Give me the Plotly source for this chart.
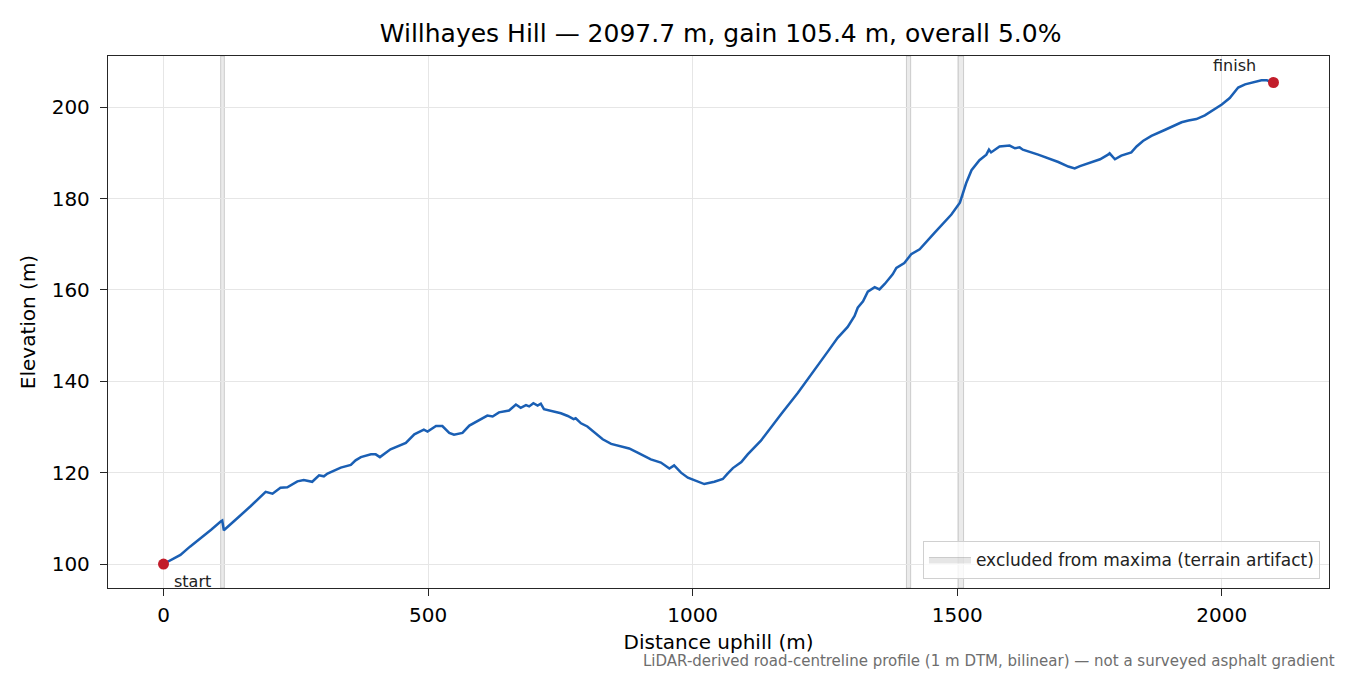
import plotly.graph_objects as go

# Road-centreline profile
distance_m = [0, 12, 32, 50, 70, 90, 108, 111, 114, 125, 142, 165, 180, 193, 206, 221, 234,
              253, 265, 281, 294, 303, 310, 335, 354, 363, 373, 392, 401, 409, 429, 458, 474,
              492, 499, 515, 527, 540, 549, 565, 578, 593, 612, 622, 634, 653, 666, 675, 685,
              691, 699, 707, 713, 719, 751, 764, 775, 779, 789, 801, 814, 830, 846, 865, 880,
              896, 921, 940, 956, 965, 978, 991, 1003, 1022, 1041, 1057, 1066, 1076, 1092,
              1104, 1129, 1150, 1167, 1199, 1224, 1256, 1274, 1293, 1306, 1312, 1322, 1331,
              1344, 1353, 1363, 1378, 1385, 1400, 1413, 1429, 1457, 1489, 1505, 1517, 1527,
              1542, 1555, 1560, 1564, 1580, 1599, 1609, 1618, 1624, 1653, 1691, 1710, 1722,
              1732, 1744, 1770, 1785, 1788, 1798, 1810, 1829, 1839, 1851, 1867, 1892, 1924,
              1937, 1952, 1968, 2000, 2015, 2031, 2044, 2056, 2075, 2085, 2097.7]
elevation_m = [100.0, 100.8, 102.0, 103.8, 105.6, 107.5, 109.3, 109.5, 107.4, 108.6, 110.3,
               112.7, 114.3, 115.8, 115.4, 116.7, 116.8, 118.1, 118.4, 118.0, 119.4, 119.2,
               119.8, 121.1, 121.7, 122.7, 123.4, 124.0, 124.0, 123.4, 125.1, 126.5, 128.4,
               129.4, 129.0, 130.2, 130.2, 128.7, 128.3, 128.7, 130.3, 131.3, 132.5, 132.3,
               133.2, 133.6, 134.9, 134.2, 134.8, 134.5, 135.2, 134.7, 135.1, 133.9, 133.0,
               132.4, 131.7, 131.9, 130.8, 130.1, 128.9, 127.3, 126.3, 125.8, 125.3, 124.4,
               122.9, 122.2, 120.9, 121.6, 120.0, 118.9, 118.3, 117.5, 118.0, 118.6, 119.8,
               121.0, 122.3, 124.0, 127.0, 130.3, 132.8, 137.5, 141.4, 146.6, 149.5, 151.9,
               154.3, 156.1, 157.5, 159.6, 160.6, 160.1, 161.3, 163.4, 164.8, 165.9, 167.8,
               168.9, 172.5, 176.5, 179.1, 183.4, 186.2, 188.4, 189.6, 190.7, 190.1, 191.4,
               191.6, 191.0, 191.2, 190.7, 189.6, 188.0, 187.0, 186.6, 187.1, 187.6, 188.6,
               189.6, 189.9, 188.6, 189.4, 190.1, 191.4, 192.6, 193.7, 195.0, 196.7, 197.1,
               197.4, 198.2, 200.6, 202.0, 204.3, 205.0, 205.3, 205.9, 205.9, 205.4]

# Stretches excluded from maxima (terrain artifacts)
excluded_start = [108, 1404, 1502]
excluded_end = [115, 1412, 1512]

total_length = 2097.7
total_gain = 105.4
overall_grade = 5.0

x_ticks = [0, 500, 1000, 1500, 2000]
y_ticks = [100, 120, 140, 160, 180, 200]

FONT = 'DejaVu Sans'
AXIS_COLOR = '#262626'
GRID_COLOR = '#e6e6e6'
BAND_FILL = 'rgba(128,128,128,0.16)'
BAND_EDGE = 'rgba(128,128,128,0.35)'

fig = go.Figure()

# Excluded bands
for x0, x1 in zip(excluded_start, excluded_end):
    fig.add_vrect(x0=x0, x1=x1, fillcolor=BAND_FILL,
                  line=dict(color=BAND_EDGE, width=1), layer='below')

# legend entry for the bands (patch-style icon)
fig.add_trace(go.Scatter(
    x=[None], y=[None], mode='lines', fill='toself',
    fillcolor='rgba(128,128,128,0.2)', line=dict(color=BAND_EDGE, width=1),
    name='excluded from maxima (terrain artifact)',
))

# Profile line
fig.add_trace(go.Scatter(
    x=distance_m, y=elevation_m,
    mode='lines',
    line=dict(color='#1a5fb4', width=2.5),
    showlegend=False,
    hoverinfo='skip',
))

# Start / finish markers
fig.add_trace(go.Scatter(
    x=[distance_m[0], distance_m[-1]],
    y=[elevation_m[0], elevation_m[-1]],
    mode='markers',
    marker=dict(color='#c21d2b', size=11),
    showlegend=False,
    hoverinfo='skip',
))

fig.add_annotation(x=distance_m[0], y=elevation_m[0], text='start', showarrow=False,
                   xanchor='left', yanchor='top', xshift=8, yshift=-6,
                   font=dict(family=FONT, size=16, color='#222'))
fig.add_annotation(x=distance_m[-1], y=elevation_m[-1], text='finish', showarrow=False,
                   xanchor='right', yanchor='bottom', xshift=-15, yshift=6,
                   font=dict(family=FONT, size=16, color='#222'))

# Footnote
fig.add_annotation(
    text='LiDAR-derived road-centreline profile (1 m DTM, bilinear) \u2014 not a surveyed asphalt gradient',
    xref='paper', yref='paper', x=1.0066, y=-0.137,
    xanchor='right', yanchor='middle', showarrow=False,
    font=dict(family=FONT, size=15, color='#6e6e6e'),
)

fig.update_layout(
    width=1343, height=668,
    margin=dict(l=100, r=22, t=48, b=88),
    paper_bgcolor='white', plot_bgcolor='white',
    font=dict(family=FONT, size=20, color='black'),
    title=dict(
        text=f'Willhayes Hill \u2014 {total_length} m, gain {total_gain} m, overall {overall_grade}%',
        x=0.5306, xanchor='center', y=0.962, yanchor='middle',
        font=dict(family=FONT, size=25, color='black'),
    ),
    legend=dict(
        x=0.9926, xanchor='right', y=0.017, yanchor='bottom',
        bgcolor='rgba(255,255,255,0.8)', bordercolor='#d0d0d0', borderwidth=1,
        itemwidth=42, tracegroupgap=0,
        font=dict(family=FONT, size=17, color='#222'),
    ),
    xaxis=dict(
        range=[-104.9, 2202.6],
        tickvals=x_ticks,
        showgrid=True, gridcolor=GRID_COLOR, gridwidth=1.2,
        zeroline=False,
        showline=True, linecolor=AXIS_COLOR, linewidth=1.3, mirror=True,
        ticks='outside', ticklen=7, tickwidth=1.3, tickcolor=AXIS_COLOR,
        ticklabelstandoff=2,
        tickfont=dict(family=FONT, size=20, color='black'),
        title=dict(text='Distance uphill (m)', standoff=8,
                   font=dict(family=FONT, size=20, color='black')),
    ),
    yaxis=dict(
        range=[94.75, 211.2],
        tickvals=y_ticks,
        showgrid=True, gridcolor=GRID_COLOR, gridwidth=1.2,
        zeroline=False,
        showline=True, linecolor=AXIS_COLOR, linewidth=1.3, mirror=True,
        ticks='outside', ticklen=7, tickwidth=1.3, tickcolor=AXIS_COLOR,
        ticklabelstandoff=6,
        tickfont=dict(family=FONT, size=20, color='black'),
        title=dict(text='Elevation (m)', standoff=10,
                   font=dict(family=FONT, size=20, color='black')),
    ),
)

fig.write_html('out.html')
